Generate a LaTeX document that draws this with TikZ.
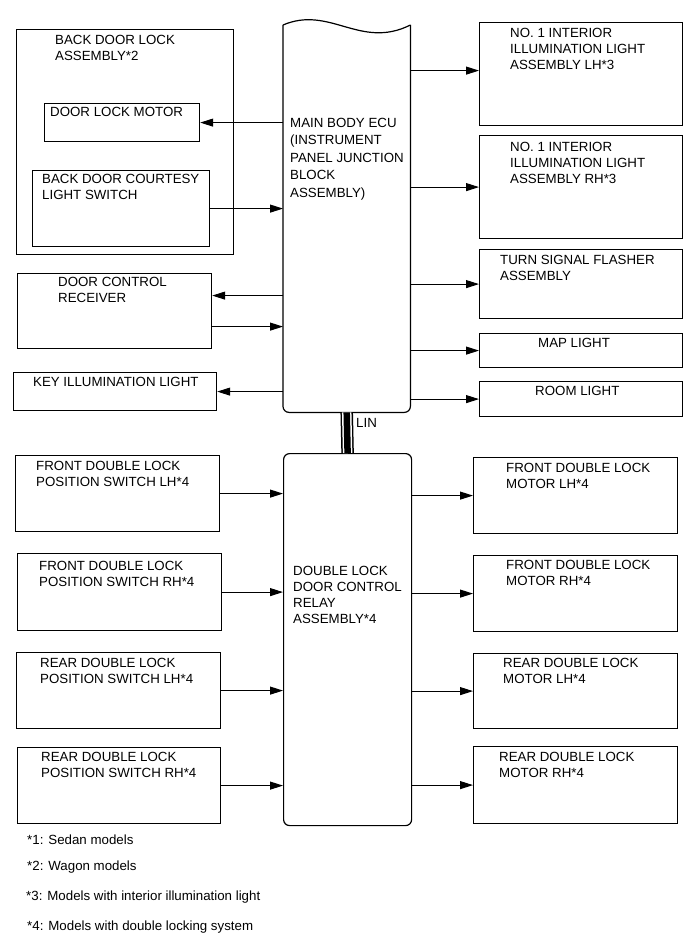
\documentclass[tikz,border=0pt]{standalone}
\usepackage{fontspec}
\setmainfont{Liberation Sans}
\usetikzlibrary{arrows.meta}
\tikzset{
  box/.style={draw=black, line width=1.2pt, anchor=north west, inner sep=0pt},
  tag/.style={anchor=north west, inner sep=0pt, align=left, font=\fontsize{13.3}{16}\selectfont},
  arr/.style={-{Triangle[length=13pt,width=8pt]}, line width=1pt},
}

\begin{document}
\begin{tikzpicture}[x=1pt, y=-1pt]
  \useasboundingbox (0,0) rectangle (690,952);

  % main body ECU (outline drawn below)
  \node[inner sep=0pt, anchor=north west, minimum width=127pt, minimum height=387pt] (ecu) at (283,25) {};
  \draw[line width=1.2pt] (ecu.north west) .. controls +(47,-20) and +(-50,25) .. (ecu.north east);
  \draw[line width=1.2pt, rounded corners=6pt] (ecu.north east) -- (ecu.south east) -- (ecu.south west) -- (ecu.north west);
  \node[tag, font=\fontsize{13.3}{17.5}\selectfont] (ecu-t) at ([shift={(7,93)}]ecu.north west) {MAIN BODY ECU\\(INSTRUMENT\\PANEL JUNCTION\\BLOCK\\ASSEMBLY)};

  % double lock relay
  \node[box, rounded corners=6pt, minimum width=128pt, minimum height=372pt] (relay) at (283,453) {};
  \node[tag] (relay-t) at ([shift={(10,113)}]relay.north west) {DOUBLE LOCK\\DOOR CONTROL\\RELAY\\ASSEMBLY*4};

  % LIN
  \draw[line width=12.5pt] (ecu.south) -- (relay.north);
  \draw[line width=9.5pt, white] (ecu.south) -- (relay.north);
  \draw[line width=6.5pt] (ecu.south) -- (relay.north);
  \node[tag, anchor=west] (lin) at (356,423) {LIN};

  % back door lock assembly
  \node[box, minimum width=217pt, minimum height=225pt] (bdl) at (16,29) {};
  \node[tag] (bdl-t) at ([shift={(39,6)}]bdl.north west) {BACK DOOR LOCK\\ASSEMBLY*2};
  \node[box, minimum width=155pt, minimum height=38pt] (dlm) at (44,103) {};
  \node[tag] (dlm-t) at ([shift={(6,4)}]dlm.north west) {DOOR LOCK MOTOR};
  \node[box, minimum width=177pt, minimum height=76pt] (cts) at (32,170) {};
  \node[tag] (cts-t) at ([shift={(10,4)}]cts.north west) {BACK DOOR COURTESY\\LIGHT SWITCH};

  % left of ECU
  \node[box, minimum width=194pt, minimum height=75pt] (rcv) at (17,273) {};
  \node[tag] (rcv-t) at ([shift={(41,4)}]rcv.north west) {DOOR CONTROL\\RECEIVER};
  \node[box, minimum width=203pt, minimum height=38pt] (key) at (13,372) {};
  \node[tag] (key-t) at ([shift={(20,5)}]key.north west) {KEY ILLUMINATION LIGHT};

  % right of ECU
  \node[box, minimum width=203pt, minimum height=103pt] (ilh) at (479,22) {};
  \node[tag] (ilh-t) at ([shift={(31,6)}]ilh.north west) {NO. 1 INTERIOR\\ILLUMINATION LIGHT\\ASSEMBLY LH*3};
  \node[box, minimum width=203pt, minimum height=103pt] (irh) at (479,135) {};
  \node[tag] (irh-t) at ([shift={(31,7)}]irh.north west) {NO. 1 INTERIOR\\ILLUMINATION LIGHT\\ASSEMBLY RH*3};
  \node[box, minimum width=203pt, minimum height=69pt] (tsf) at (479,249) {};
  \node[tag] (tsf-t) at ([shift={(21,6)}]tsf.north west) {TURN SIGNAL FLASHER\\ASSEMBLY};
  \node[box, minimum width=203pt, minimum height=34pt] (map) at (479,333) {};
  \node[tag] (map-t) at ([shift={(59,5)}]map.north west) {MAP LIGHT};
  \node[box, minimum width=203pt, minimum height=35pt] (room) at (479,381) {};
  \node[tag] (room-t) at ([shift={(56,5)}]room.north west) {ROOM LIGHT};

  % position switches
  \node[box, minimum width=204pt, minimum height=76pt] (fpl) at (15,455) {};
  \node[tag] (fpl-t) at ([shift={(21,6)}]fpl.north west) {FRONT DOUBLE LOCK\\POSITION SWITCH LH*4};
  \node[box, minimum width=204pt, minimum height=77pt] (fpr) at (17,553) {};
  \node[tag] (fpr-t) at ([shift={(22,8)}]fpr.north west) {FRONT DOUBLE LOCK\\POSITION SWITCH RH*4};
  \node[box, minimum width=204pt, minimum height=76pt] (rpl) at (16,652) {};
  \node[tag] (rpl-t) at ([shift={(24,6)}]rpl.north west) {REAR DOUBLE LOCK\\POSITION SWITCH LH*4};
  \node[box, minimum width=203pt, minimum height=76pt] (rpr) at (17,747) {};
  \node[tag] (rpr-t) at ([shift={(24,5)}]rpr.north west) {REAR DOUBLE LOCK\\POSITION SWITCH RH*4};

  % double lock motors
  \node[box, minimum width=204pt, minimum height=76pt] (fml) at (473,457) {};
  \node[tag] (fml-t) at ([shift={(33,6)}]fml.north west) {FRONT DOUBLE LOCK\\MOTOR LH*4};
  \node[box, minimum width=204pt, minimum height=76pt] (fmr) at (473,555) {};
  \node[tag] (fmr-t) at ([shift={(33,5)}]fmr.north west) {FRONT DOUBLE LOCK\\MOTOR RH*4};
  \node[box, minimum width=204pt, minimum height=75pt] (rml) at (473,653) {};
  \node[tag] (rml-t) at ([shift={(30,5)}]rml.north west) {REAR DOUBLE LOCK\\MOTOR LH*4};
  \node[box, minimum width=204pt, minimum height=77pt] (rmr) at (473,746) {};
  \node[tag] (rmr-t) at ([shift={(26,6)}]rmr.north west) {REAR DOUBLE LOCK\\MOTOR RH*4};

  % connectors
  \coordinate (ilh-in) at ([yshift=3.5pt]ilh.west);
  \draw[arr] (ecu.east |- ilh-in) -- (ilh-in);
  \foreach \b in {irh,tsf,map,room}
    \draw[arr] (ecu.east |- \b.west) -- (\b.west);

  \draw[arr] (ecu.west |- dlm.east) -- (dlm.east);
  \draw[arr] (cts.east) -- (ecu.west |- cts.east);
  \coordinate (rcv-in) at ([yshift=15.5pt]rcv.east);
  \coordinate (rcv-out) at ([yshift=-15.5pt]rcv.east);
  \draw[arr] (ecu.west |- rcv-in) -- (rcv-in);
  \draw[arr] (rcv-out) -- (ecu.west |- rcv-out);
  \draw[arr] (ecu.west |- key.east) -- (key.east);

  \foreach \b in {fpl,fpr,rpl,rpr}
    \draw[arr] (\b.east) -- (relay.west |- \b.east);
  \foreach \b in {fml,fmr,rml,rmr}
    \draw[arr] (relay.east |- \b.west) -- (\b.west);

  % notes
  \node[tag, anchor=west] (n1) at (27,840) {*1: Sedan models};
  \node[tag, anchor=west] (n2) at (27,867) {*2: Wagon models};
  \node[tag, anchor=west] (n3) at (26,897) {*3: Models with interior illumination light};
  \node[tag, anchor=west] (n4) at (27,927) {*4: Models with double locking system};
\end{tikzpicture}
\end{document}
